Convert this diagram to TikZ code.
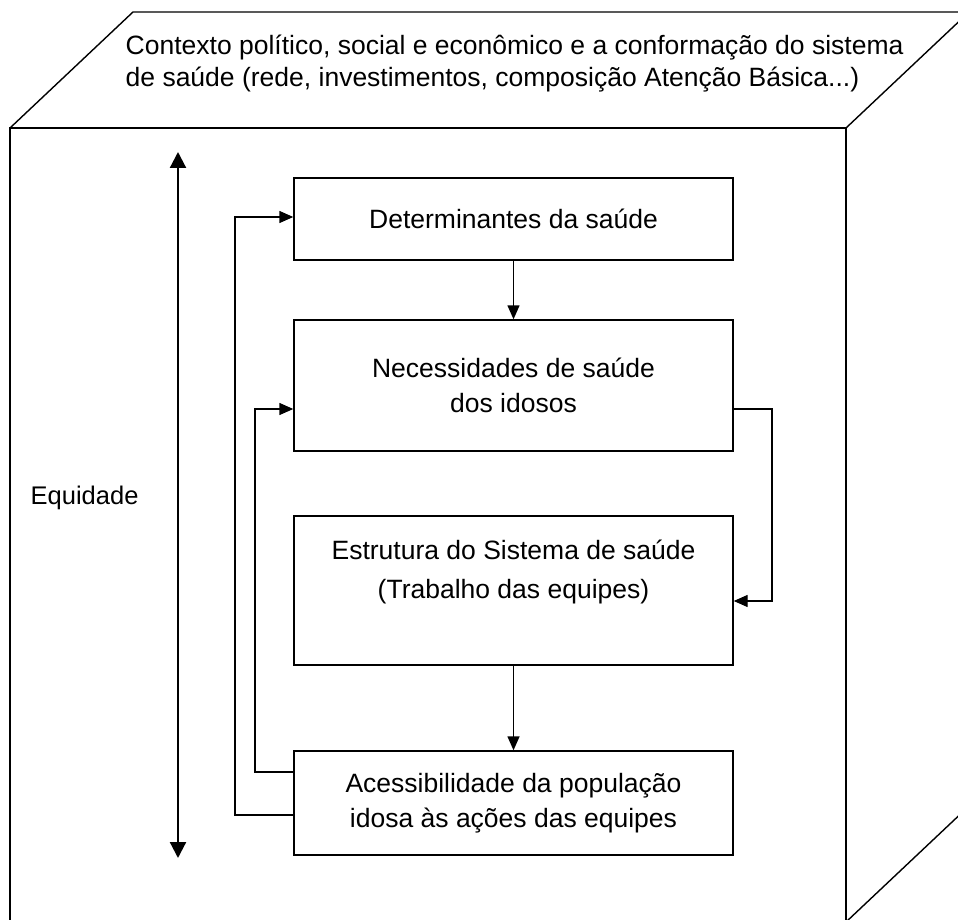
\documentclass[tikz,border=0pt]{standalone}
\usepackage{fontspec}
\setmainfont{Liberation Sans}
\usetikzlibrary{arrows.meta}
\begin{document}
\begin{tikzpicture}[x=1pt,y=-1pt,line width=1.4pt,
font=\fontsize{26.5}{35}\selectfont]
\tikzstyle{box}=[draw,rectangle,minimum width=439pt,inner sep=0pt,align=center]
\tikzstyle{txt}=[inner sep=0pt,align=center]
\tikzstyle{link}=[-{Triangle[length=14pt,width=12pt]}]

\useasboundingbox (0,0) rectangle (958,920);
\begin{scope}
\clip (0,0) rectangle (958,920);
% cube
\coordinate (fTL) at (10,128);
\coordinate (fTR) at (846,128);
\coordinate (fBR) at (846,922);
\coordinate (fBL) at (10,922);
\coordinate (bTL) at (133,12);
\coordinate (bTR) at (969,12);
\coordinate (bBR) at (969,806);
\draw (fTL) rectangle (fBR);
\draw (fTL) -- (bTL) -- (bTR) -- (fTR);
\draw (bTR) -- (bBR) -- (fBR);
\end{scope}

\node[txt,anchor=west,align=left,font=\fontsize{26.5}{32}\selectfont] (contexto) at (125,64)
  {Contexto político, social e econômico e a conformação do sistema\\
   de saúde (rede, investimentos, composição Atenção Básica...)};

% equidade
\coordinate (eqTop) at (178,152);
\coordinate (eqBot) at (178,858);
\draw[line width=2.2pt,{Triangle[length=16pt,width=16pt]}-{Triangle[length=16pt,width=16pt]}] (eqBot) -- (eqTop);
\node[txt,anchor=west,font=\fontsize{25.5}{32}\selectfont] (equidade) at (30,498) {Equidade};

% boxes
\node[box,minimum height=82pt] (determinantes) at (513.5,219) {Determinantes da saúde};
\node[box,minimum height=131pt] (necessidades) at (513.5,385.5) {Necessidades de saúde\\dos idosos};
\node[box,minimum height=149pt] (estrutura) at (513.5,590.5) {};
\node[txt] (estruturaTxt) at (513.5,572) {Estrutura do Sistema de saúde\\[4pt](Trabalho das equipes)};
\node[box,minimum height=104pt] (acessibilidade) at (513.5,803) {Acessibilidade da população\\idosa às ações das equipes};

% connectors
\draw[link] (determinantes) -- (necessidades);
\draw[link] (estrutura) -- (acessibilidade);
\draw[link] (necessidades.east |- 0,409) -| (772,601) -- (estrutura.east |- 0,601);
\draw[link] (acessibilidade.west |- 0,772) -| (255,409) -- (necessidades.west |- 0,409);
\draw[link] (acessibilidade.west |- 0,815) -| (235,217) -- (determinantes.west |- 0,217);

\end{tikzpicture}
\end{document}
